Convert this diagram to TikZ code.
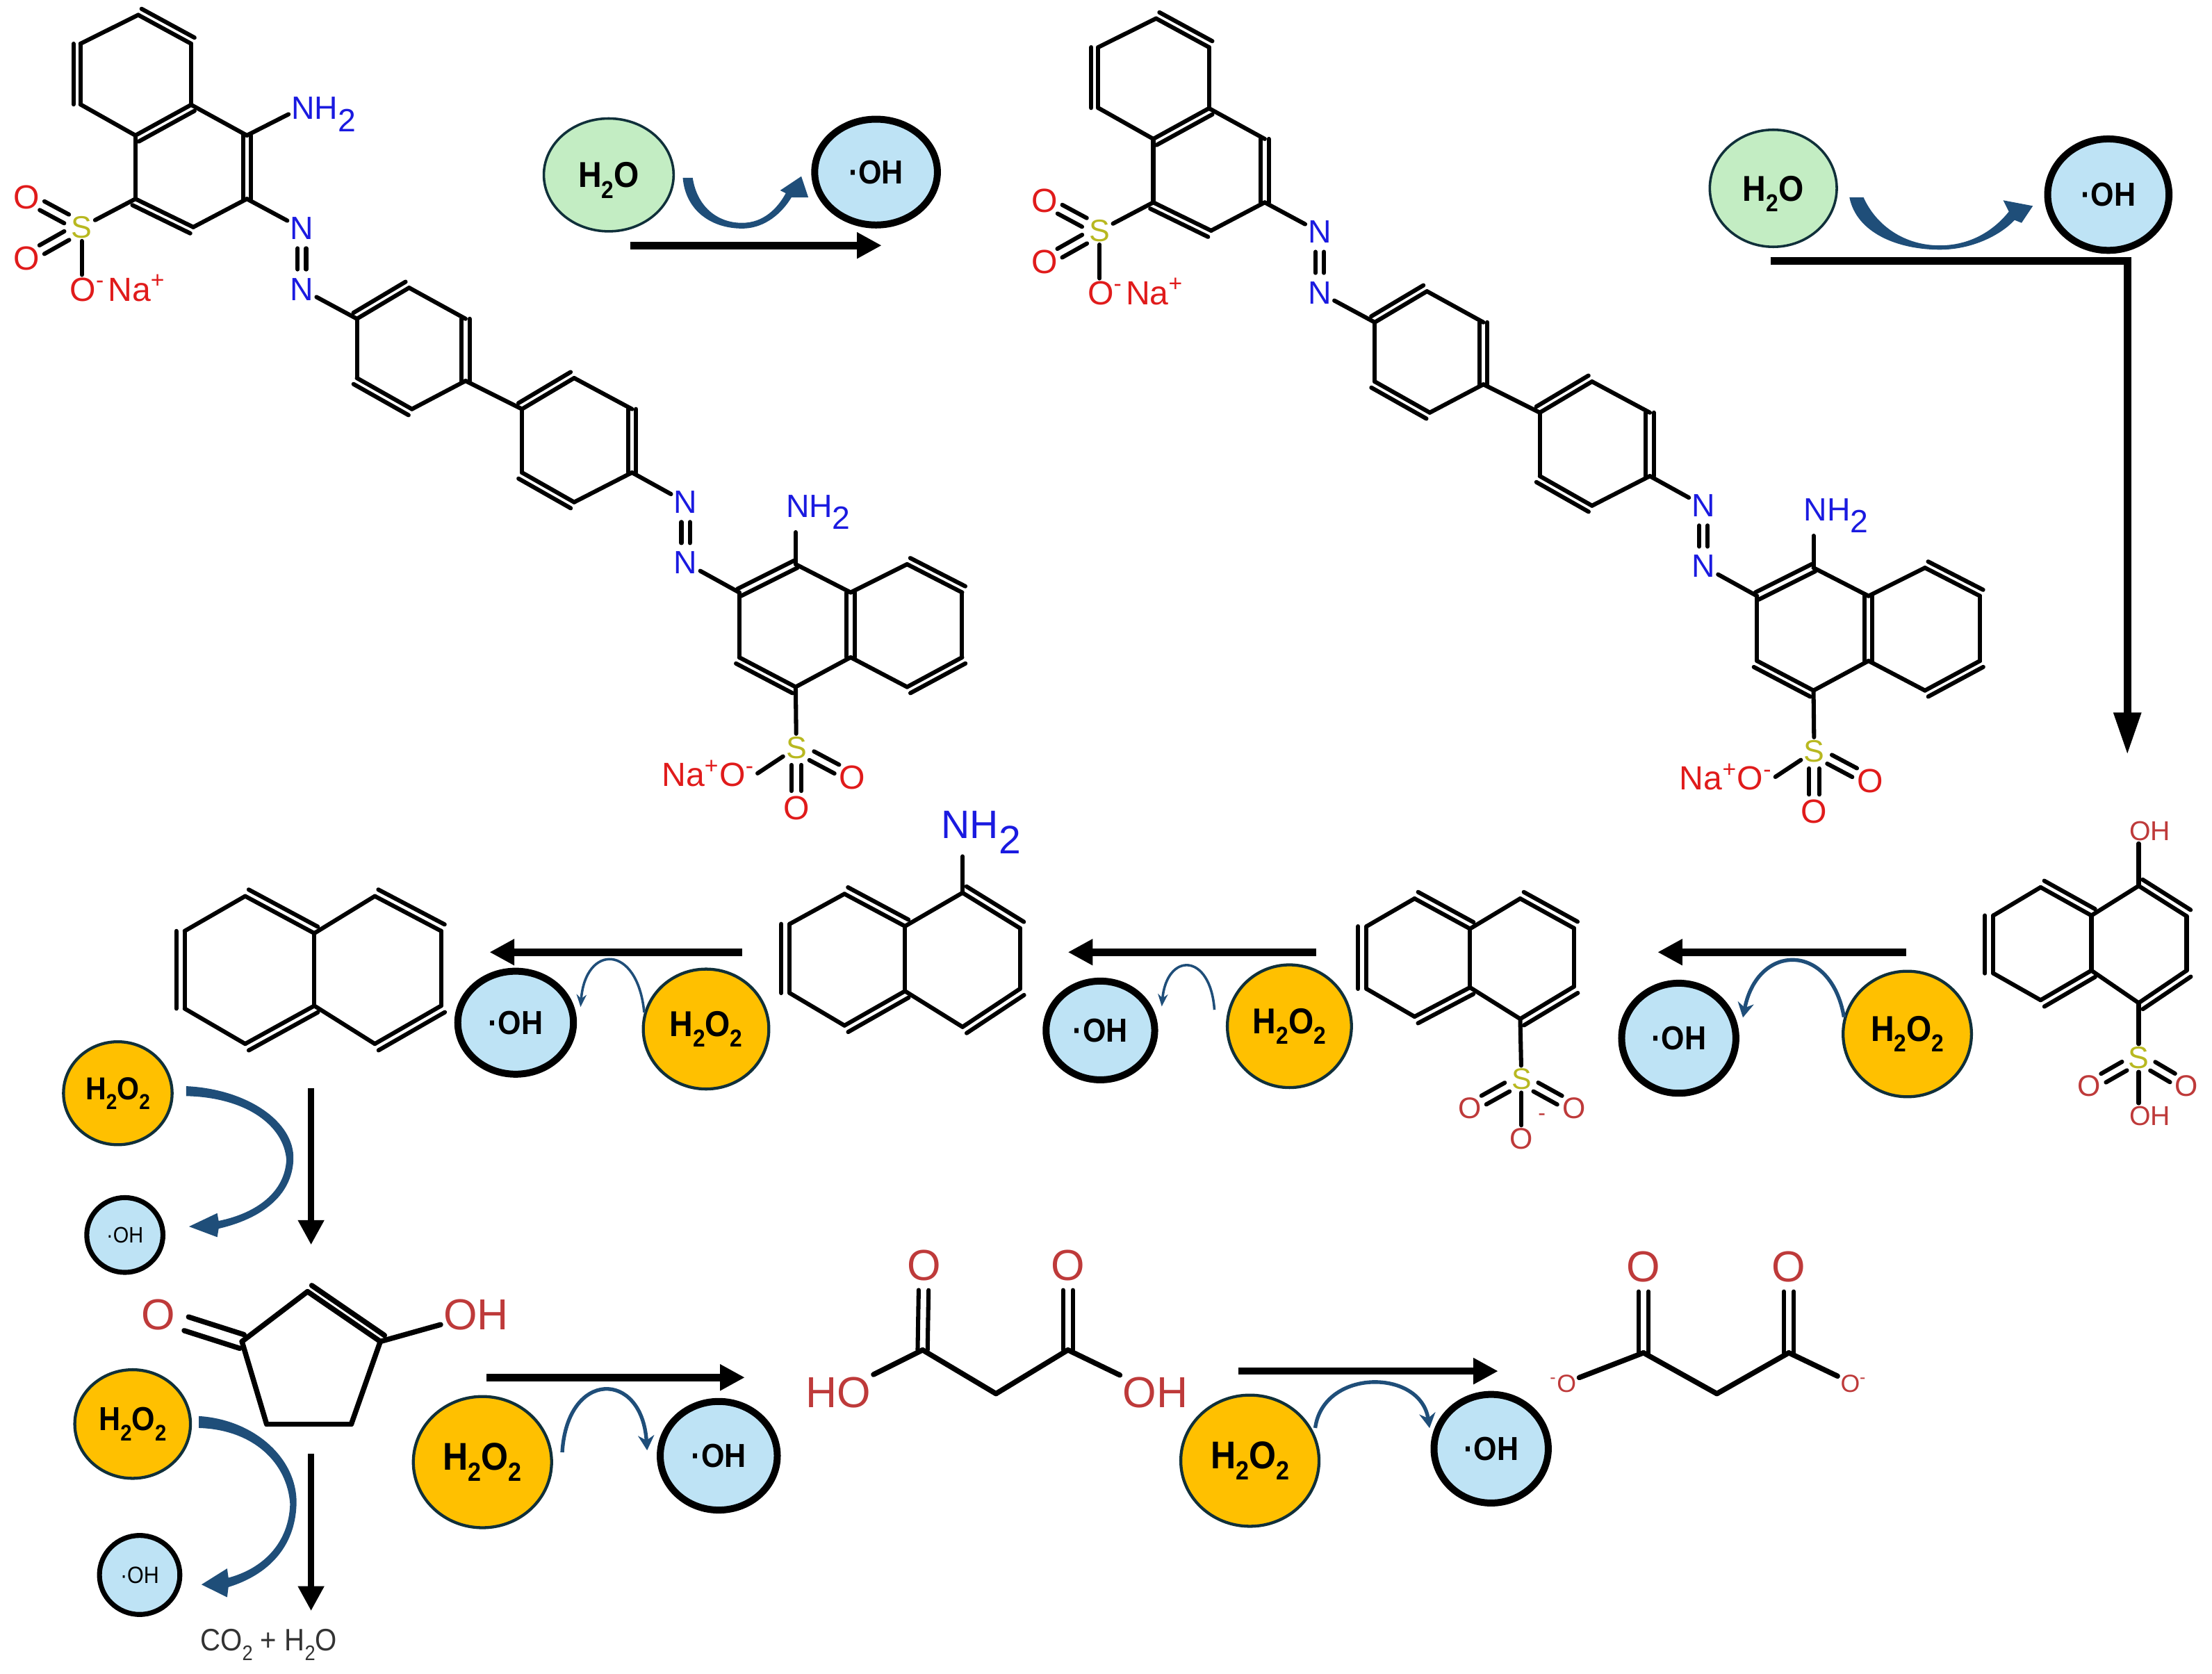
\documentclass[tikz,border=0pt]{standalone}
\usepackage{fontspec}
\setmainfont{Liberation Sans}
\newfontfamily\bubfont[FakeStretch=0.9]{Liberation Sans}
\usetikzlibrary{arrows.meta,calc,shapes.geometric}

\definecolor{nblue}{HTML}{1A1AE0}
\definecolor{oxred}{HTML}{E01B1B}
\definecolor{oxdim}{HTML}{BE3A3A}
\definecolor{sulf}{HTML}{B8B820}
\definecolor{watergreen}{HTML}{C3EDC3}
\definecolor{radblue}{HTML}{BEE3F5}
\definecolor{peroxgold}{HTML}{FFC000}
\definecolor{rimdark}{HTML}{10303A}
\definecolor{swoopblue}{HTML}{1F4E79}

\newcommand{\fsz}[1]{\fontsize{#1}{#1}\selectfont}
\newcommand{\lowtwo}{\raisebox{-.38em}{2}}
\newcommand{\lowsub}{\raisebox{-.3em}{\scalebox{.68}{2}}}
\newcommand{\hto}{H\lowsub O}
\newcommand{\htwoo}{H\lowsub O\lowsub}
\newcommand{\atoms}[1]{\foreach \n/\xx/\yy in {#1} \coordinate (\n) at (\xx,\yy);}
\newcommand{\dbond}[3]{\draw[bond] (#1) -- (#2);
    \draw[bond] ($(#1)!#3!90:(#2)$) -- ($(#2)!#3!-90:(#1)$);}
\newcommand{\twin}[4][]{\draw[bond,#1] ($(#2)!#4!90:(#3)$) -- ($(#3)!#4!-90:(#2)$);
    \draw[bond,#1] ($(#2)!#4!-90:(#3)$) -- ($(#3)!#4!90:(#2)$);}
\newcommand{\singles}[1]{\foreach \p/\q in {#1} \draw[bond] (\p) -- (\q);}
\newcommand{\doubles}[1]{\foreach \p/\q/\off in {#1} \dbond{\p}{\q}{\off};}

\newcommand{\naphbonds}{%
    \singles{lt/lu, ll/lb, ct/cb, ct/rt, ru/rl, rb/cb}
    \doubles{lt/ct/3pt, ll/lu/3.4pt, lb/cb/-3pt, rt/ru/3pt, rb/rl/-3pt}
}

\newcommand{\azodye}[2]{%
\begin{scope}[shift={#2},name prefix=#1-]
    \atoms{a1/98/10.6, a2/135.5/31, a3/135.5/74.3, a4/96/96, a5/57/74, a6/57/31,
        b1/175/96, b2/175/141, b3/137/161, b4/96/141,
        c1/253/226, c2/290/204, c3/330/226, c4/330/270, c5/292/290, c6/253/268,
        d1/370/290, d2/407/268, d3/448/290, d4/448/335, d5/407/356, d6/370/335,
        e1/524/420, e2/564/400, e3/603/420, e4/603/466, e5/564/487, e6/524/466,
        f1/643/400, f2/682/420, f3/682/466, f4/643/487}
    \node[sulfur] (s1) at (58,161) {S};
    \node[oxy] (o1) at (19,140) {O};
    \node[oxy] (o2) at (19,183) {O};
    \node[oxy, anchor=base] (o3) at (62,213.5) {O\textsuperscript{-}};
    \node[oxy, anchor=base] (na1) at (97,213.5) {Na\textsuperscript{+}};
    \node[nitro] (n1) at (214,162) {N};
    \node[nitro] (n2) at (214,205) {N};
    \node[nitro] (n3) at (486,356) {N};
    \node[nitro] (n4) at (486,399) {N};
    \node[nitro] (amino) at (580,363) {NH\lowtwo};
    \node[sulfur] (s2) at (564.5,530) {S};
    \node[oxy] (o4) at (604,551) {O};
    \node[oxy] (o5) at (564.5,573) {O};
    \node[oxy, anchor=base] (nao) at (502,557.5) {Na\textsuperscript{+}O\textsuperscript{-}};
    \singles{a2/a3, a4/a5, a6/a1, a3/b1, b2/b3, b4/a4, b4/s1, b2/n1, n2/c1,
        c2/c3, c4/c5, c6/c1, c4/d1, d2/d3, d4/d5, d6/d1, d4/n3, n4/e1,
        e2/e3, e4/e5, e6/e1, e3/f1, f2/f3, f4/e4, e5/s2, s2/nao.east}
    \draw[bond] (e2) -- (amino.south -| e2);
    \draw[bond] (s1) -- (o3.north -| s1);
    \doubles{a1/a2/2.8pt, a5/a6/2.8pt, a4/a3/-2.8pt, b4/b3/-2.8pt,
        c1/c2/2.8pt, c6/c5/-2.8pt, d1/d2/2.8pt, d6/d5/-2.8pt,
        e6/e5/-2.8pt, f1/f2/2.8pt, f4/f3/-2.8pt}
    \foreach \p/\q in {b1/b2, c3/c4, d3/d4, e1/e2, e3/e4} \twin{\p}{\q}{1.6pt};
    \foreach \p/\q in {n1/n2, n3/n4} \twin[shorten <=8pt, shorten >=8pt]{\p}{\q}{1.7pt};
    \foreach \p/\q in {s1/o1, s1/o2, s2/o4, s2/o5} \twin[shorten <=7pt, shorten >=7pt]{\p}{\q}{2pt};
\end{scope}}

\newcommand{\tailswoop}{%
    \fill[swoop] (0,-3) .. controls (43,-1) and (77,22) .. (76,49)
        .. controls (75,75) and (53,91) .. (23,98) -- (22,104) -- (2,96.5) -- (22,87) -- (23,92.5)
        .. controls (50,87) and (70,72) .. (71,49) .. controls (69,25) and (43,5) .. (0,4) -- cycle;
}

\begin{document}
\begin{tikzpicture}[
    x=0.2mm, y=-0.2mm,
    bond/.style={line width=1.7pt, line cap=round, black},
    heavybond/.style={bond, line width=2.1pt},
    nitro/.style={text=nblue, font=\fsz{13}, inner sep=1pt},
    oxy/.style={text=oxred, font=\fsz{13.5}, inner sep=1pt},
    sulfur/.style={text=sulf, font=\fsz{12.5}, inner sep=1pt},
    dimoxy/.style={text=oxdim, font=\fsz{12}, inner sep=1pt},
    bigoxy/.style={text=oxdim, font=\fsz{17.5}, inner sep=1pt},
    tinyoxy/.style={text=oxdim, font=\fsz{10}, inner sep=1pt},
    bub/.style={ellipse, inner sep=0pt},
    bubsize/.style 2 args={minimum width=#1*0.2mm, minimum height=#2*0.2mm},
    water/.style={bub, fill=watergreen, draw=rimdark, line width=1pt, text depth=0pt},
    radical/.style={bub, fill=radblue, draw=black, line width=2.8pt},
    perox/.style={bub, fill=peroxgold, draw=rimdark, line width=1.2pt},
    react/.style={line width=3pt, -{Triangle[length=10pt,width=10pt]}},
    downarrow/.style={line width=2.5pt, -{Triangle[length=10pt,width=10pt]}},
    swoop/.style={fill=swoopblue},
    hop/.style={swoopblue, line width=1.5pt, -{Stealth[length=6pt,width=6.5pt]}},
    finehop/.style={swoopblue, line width=1pt, -{Stealth[length=5pt,width=4pt]}}
]
    \useasboundingbox (0,0) rectangle (1568,1186.7);

    % azo dye, before and after the first cleavage
    \azodye{m1}{(0,0)}
    \azodye{m2}{(721.5,2.5)}
    \node[nitro] (amino1) at (229.5,81) {NH\lowtwo};
    \draw[bond] (m1-b1) -- (amino1.west);

    % naphthalene fragments
    \begin{scope}[name prefix=m3-]
        \atoms{lt/1446.5/629, lu/1413/649, ll/1413/690, lb/1446.5/709, ct/1482.5/649,
            cb/1482.5/688, rt/1516/628, ru/1550/649.5, rl/1550/688, rb/1516/711}
        \naphbonds
        \node[dimoxy, font=\fsz{11}] (oh) at (1524,589) {OH};
        \node[sulfur] (s) at (1516,750) {S};
        \node[dimoxy] (ol) at (1481,770) {O};
        \node[dimoxy] (or) at (1550,770) {O};
        \node[dimoxy, font=\fsz{11}] (ohb) at (1524,791) {OH};
        \draw[bond] (rt) -- (oh.south -| rt);
        \draw[bond] (rb) -- (s);
        \draw[bond] (s) -- (ohb.north -| s);
        \twin[shorten <=6.6pt, shorten >=6.6pt]{s}{ol}{2pt}
        \twin[shorten <=6.6pt, shorten >=6.6pt]{s}{or}{2pt}
    \end{scope}
    \begin{scope}[name prefix=m4-]
        \atoms{lt/1002.7/637, lu/968.7/656.7, ll/968.7/701, lb/1002.7/720.7, ct/1042/658.4,
            cb/1042/700, rt/1077.6/637, ru/1115.7/658, rl/1115.7/699.4, rb/1077.6/722.3}
        \naphbonds
        \node[sulfur, font=\fsz{12}] (s) at (1078.5,765) {S};
        \node[dimoxy] (ol) at (1041.7,785.5) {O};
        \node[dimoxy] (or) at (1115.7,785.5) {O};
        \node[dimoxy] (ob) at (1078.5,807.3) {O};
        \node[dimoxy, font=\fsz{9}] (minus) at (1093,792) {-};
        \draw[bond] (rb) -- (s);
        \draw[bond] (s) -- (ob);
        \twin[shorten <=6.6pt, shorten >=6.6pt]{s}{ol}{2pt}
        \twin[shorten <=6.6pt, shorten >=6.6pt]{s}{or}{2pt}
    \end{scope}
    \begin{scope}[name prefix=m5-]
        \atoms{lt/598.6/633.7, lu/559.8/655, ll/559.8/704, lb/598.6/727, ct/641.5/656.6,
            cb/641.5/702.6, rt/682.3/632.9, ru/723/658, rl/723/701, rb/682.3/728}
        \naphbonds
        \node[nitro, font=\fsz{16}] (amino) at (695.5,590) {NH\lowtwo};
        \draw[bond] (rt) -- (amino.south -| rt);
    \end{scope}
    \begin{scope}[name prefix=m6-]
        \atoms{lt/173.8/635.3, lu/130.9/660, ll/130.9/715, lb/173.8/740, ct/222.8/661.6,
            cb/222.8/713, rt/265.7/635.3, ru/312.7/660, rl/312.7/713, rb/265.7/740}
        \naphbonds
    \end{scope}

    % ring-opened products
    \begin{scope}[name prefix=m7-]
        \atoms{top/218/915.6, rgt/269.6/951, br/249/1009.6, bl/189/1009.6, lft/171.5/951}
        \node[bigoxy] (o) at (112,932) {O};
        \node[bigoxy] (oh) at (337.5,932) {OH};
        \foreach \p/\q in {top/lft, lft/bl, bl/br, br/rgt, top/rgt, rgt/oh}
            \draw[heavybond] (\p) -- (\q);
        \draw[heavybond] ($(top)!3pt!90:(rgt)$) -- ($(rgt)!3pt!-90:(top)$);
        \twin[heavybond, shorten >=12pt]{lft}{o}{2.9pt}
    \end{scope}
    \begin{scope}[name prefix=m8-]
        \atoms{c1/654/957, ch/706/988, c2/757/957}
        \node[bigoxy] (o1) at (655,897) {O};
        \node[bigoxy] (o2) at (757,897) {O};
        \node[bigoxy] (ho) at (594,987) {HO};
        \node[bigoxy] (oh) at (819,987) {OH};
        \foreach \p/\q in {c1/ho, c1/ch, ch/c2, c2/oh} \draw[heavybond] (\p) -- (\q);
        \twin[shorten >=10pt]{c1}{o1}{2pt}
        \twin[shorten >=10pt]{c2}{o2}{2pt}
    \end{scope}
    \begin{scope}[name prefix=m9-]
        \atoms{c1/1165/959, ch/1217/988, c2/1268/959}
        \node[bigoxy] (o1) at (1165,898) {O};
        \node[bigoxy] (o2) at (1268,898) {O};
        \node[tinyoxy] (ol) at (1108,981) {\textsuperscript{-}O};
        \node[tinyoxy] (or) at (1314,981) {O\textsuperscript{-}};
        \foreach \p/\q in {c1/ol, c1/ch, ch/c2, c2/or} \draw[heavybond] (\p) -- (\q);
        \twin[shorten >=10pt]{c1}{o1}{2pt}
        \twin[shorten >=10pt]{c2}{o2}{2pt}
    \end{scope}
    \node[font=\bubfont\fsz{12.5}, text=black!80, inner sep=0pt] (co2) at (190.5,1166) {CO\lowsub{} + \hto};

    % bubbles
    \foreach \nm/\xx/\yy/\ww/\hh in {wat1/431.5/124/92/80, wat2/1257/133.5/90/83}
        \node[water, bubsize={\ww}{\hh}, font=\bubfont\bfseries\fsz{14.5}] (\nm) at (\xx,\yy) {\hto};
    \foreach \nm/\xx/\yy/\ww/\hh/\fs in {rad1/621/122/87/75/13.4, rad2/1494.5/138/86/79/13.4,
            rad3/1190/736/81/78/13.4, rad4/780/730.5/77/70/13.4, rad5/365.5/725/82/73/13.4,
            rad8/509.5/1032/83/77/13.4, rad9/1057/1027/81/77/13.4}
        \node[radical, bubsize={\ww}{\hh}, font=\bubfont\bfseries\fsz{\fs}] (\nm) at (\xx,\yy) {·OH};
    \foreach \nm/\xx/\yy/\ww/\hh/\fs in {rad6/88.5/875.5/54/53/9, rad7/99/1116.5/57/56/9.5}
        \node[radical, line width=2pt, bubsize={\ww}{\hh}, font=\bubfont\fsz{\fs}] (\nm) at (\xx,\yy) {·OH};
    \foreach \nm/\xx/\yy/\ww/\hh/\fs in {per3/1352/733/91/89/14.5, per4/914/727.5/88/87/14.5,
            per5/500.5/729.5/89/85/14.5, per6/83.5/775/77/73/12.8, per7/94/1009.5/82/77/13.4,
            per8/342/1036.5/98/93/15.6, per9/886/1035.5/98/93/15.6}
        \node[perox, bubsize={\ww}{\hh}, font=\bubfont\bfseries\fsz{\fs}] (\nm) at (\xx,\yy) {\htwoo};

    % reaction arrows
    \foreach \nm/\xa/\ya/\xb/\yb in {ar1/447/174/625/174, ar3/1351/675/1175/675,
            ar4/933/675/757/675, ar5/526/675/347/675, ar8/345/976.5/528/976.5, ar9/878/972/1062/972} {
        \coordinate (\nm-s) at (\xa,\ya);
        \coordinate (\nm-e) at (\xb,\yb);
        \draw[react] (\nm-s) -- (\nm-e);
    }
    \foreach \nm/\ya/\yb in {ar6/771.5/882.5, ar7/1030.7/1142} {
        \coordinate (\nm-s) at (220.5,\ya);
        \coordinate (\nm-e) at (220.5,\yb);
        \draw[downarrow] (\nm-s) -- (\nm-e);
    }
    \coordinate (ar2-s) at (1255,185);
    \coordinate (ar2-e) at (1508,535);
    \draw[react, -{Triangle[length=17pt,width=10.5pt]}] (ar2-s) -| (ar2-e);

    % electron hops
    \fill[swoop] (484,126) .. controls (486,150) and (505,162) .. (526,162)
        .. controls (543,162) and (555,150) .. (561,140) -- (573,140) -- (568,125) -- (553,135) -- (557,137)
        .. controls (551,148) and (541,158) .. (526,158) .. controls (508,158) and (494,146) .. (491,126) -- cycle;
    \fill[swoop] (1311,140) .. controls (1316,165) and (1345,177) .. (1375,177)
        .. controls (1400,177) and (1420,165) .. (1428,156) -- (1433,158) -- (1441,146) -- (1420,142) -- (1424,150)
        .. controls (1412,165) and (1395,174) .. (1375,174) .. controls (1350,174) and (1330,160) .. (1321,140) -- cycle;
    \begin{scope}[shift={(132,773)}]
        \tailswoop
    \end{scope}
    \begin{scope}[shift={(141,1007.5)}, xscale=.91, yscale=1.2]
        \tailswoop
    \end{scope}
    \draw[hop] (per3.165) .. controls (1298,668) and (1246,668) .. ([xshift=3pt]rad3.20);
    \draw[finehop] ([xshift=-5.5pt]per4.165) .. controls (858,675) and (827,675) .. ([xshift=4pt]rad4.25);
    \draw[finehop] (per5.165) .. controls (452,669) and (415,669) .. ([xshift=2.5pt]rad5.15);
    \draw[hop] ([xshift=4pt]per8.8) .. controls (402,971) and (455,971) .. ([xshift=-4pt]rad8.175);
    \draw[hop] ([xshift=1.5pt]per9.28) .. controls (938,970) and (1007,970) .. ([xshift=-2pt]rad9.160);
\end{tikzpicture}
\end{document}
